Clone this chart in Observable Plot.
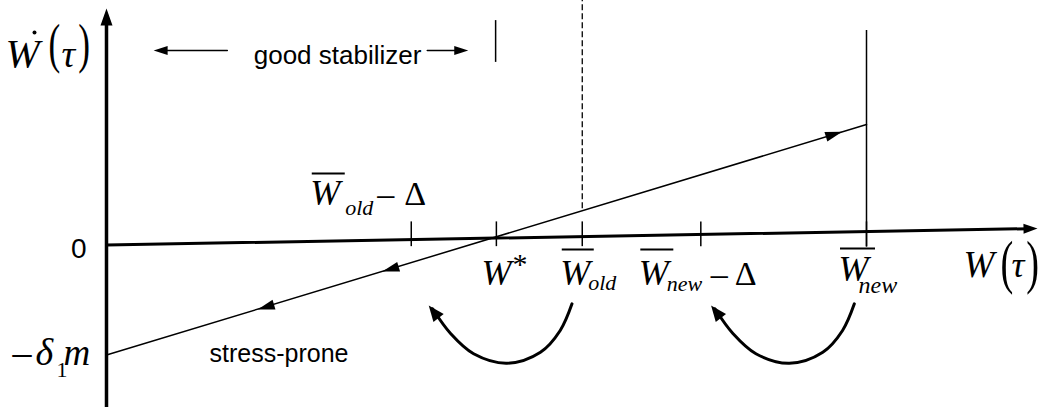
<!DOCTYPE html>
<html><head><meta charset="utf-8">
<script src="https://cdn.jsdelivr.net/npm/d3@7"></script>
<script src="https://cdn.jsdelivr.net/npm/@observablehq/plot@0.6"></script>
<style>body{margin:0;background:#fff}</style>
</head><body><div id="chart"></div>
<script>
// ---------- data (schematic units: W̄new = 10, δ1·m = 1) ----------
const tickNames = ["W̄old − Δ", "W*", "W̄old", "W̄new − Δ", "W̄new"];
const tickW = [4.01, 5.13, 6.26, 7.82, 10.0];

const lineW = [0, 10];            // Ẇ = -δ1 m + slope·W
const lineWdot = [-1.0, 1.095];

const diagArrowW = [3.63, 1.99, 9.68];
const diagArrowWdot = [-0.242, -0.587, 1.029];
const diagArrowDir = [-1, -1, 1];

const xAxisW = [0, 12.25];
const xAxisWdot = [0, 0.15];
const yAxisW = [0, 0];
const yAxisWdot = [-1.5, 2.15];

const newLineWdot = [-0.02, 1.95];     // solid line at W̄new
const oldDashWdot = [0.33, 2.2227];    // dashed line at W̄old
const stabTickW = 5.12;
const stabTickWdot = [1.66, 2.04];
const stabArrowFrom = [1.59, 4.22];
const stabArrowTo = [0.62, 4.76];
const stabArrowWdot = 1.768;

const curve1W = [6.125, 5.97, 5.71, 5.27, 4.83, 4.53, 4.29];
const curve1Wdot = [-0.535, -0.777, -0.975, -1.075, -0.989, -0.807, -0.58];
const curve2W = [9.84, 9.685, 9.425, 8.985, 8.545, 8.245, 8.005];
const curve2Wdot = [-0.535, -0.777, -0.975, -1.075, -0.989, -0.807, -0.58];
const curveTipW = [4.24, 7.955];
const curveTipWdot = [-0.55, -0.55];

// ---------- scales ----------
const WIDTH = 1039, HEIGHT = 407;
const xDomain = [-1.3947, 12.2763];
const yDomain = [-1.4773, 2.2227];
const kx = WIDTH / (xDomain[1] - xDomain[0]);
const ky = HEIGHT / (yDomain[1] - yDomain[0]);
const ang = (dw, dv) => Math.atan2(-dv * ky, dw * kx);

function head(a, L, hw) {
  const c = Math.cos(a), s = Math.sin(a);
  return {draw(ctx) {
    ctx.moveTo(0, 0);
    ctx.lineTo(-L * c + hw * s, -L * s - hw * c);
    ctx.lineTo(-L * c - hw * s, -L * s + hw * c);
    ctx.closePath();
  }};
}
function headMark(w, v, a, L, hw) {
  return Plot.dot([{w, v}], {x: "w", y: "v", r: 4, symbol: head(a, L, hw), fill: "black", stroke: "none"});
}
function back(w, v, a, px) {
  return [w - Math.cos(a) * px / kx, v + Math.sin(a) * px / ky];
}

const serif = "Liberation Serif, Times New Roman, serif";
const sans = "Liberation Sans, Arial, Helvetica, sans-serif";
function txt(t, w, v, dx, dy, size, o = {}) {
  return Plot.text([{w, v, t}], {
    x: "w", y: "v", text: "t", dx, dy, fontSize: size,
    fontFamily: o.family || serif, fontStyle: o.italic ? "italic" : "normal",
    textAnchor: o.anchor || "start", lineAnchor: "bottom", fill: "black"
  });
}
function bar(w, v, dx1, dx2, dy) {
  return Plot.ruleY([{v}], {y: "v", x1: () => w + dx1 / kx, x2: () => w + dx2 / kx, dy, strokeWidth: 2, stroke: "black"});
}

const marks = [];

// axes
const aX = ang(xAxisW[1] - xAxisW[0], xAxisWdot[1] - xAxisWdot[0]);
const xEnd = back(xAxisW[1], xAxisWdot[1], aX, 8);
marks.push(Plot.line([[xAxisW[0], xAxisWdot[0]], xEnd], {strokeWidth: 3, stroke: "black"}));
marks.push(headMark(xAxisW[1], xAxisWdot[1], aX, 14, 5));
const aY = ang(0, 1);
const yEnd = back(yAxisW[1], yAxisWdot[1], aY, 8);
marks.push(Plot.line([[yAxisW[0], yAxisWdot[0]], yEnd], {strokeWidth: 3.5, stroke: "black"}));
marks.push(headMark(yAxisW[1], yAxisWdot[1], aY, 17, 6));

// ticks
marks.push(Plot.ruleX(tickW, {y1: -0.015, y2: 0.21, strokeWidth: 1.5, stroke: "black"}));
marks.push(Plot.ruleX([tickW[4]], {y1: newLineWdot[0], y2: newLineWdot[1], strokeWidth: 1.5, stroke: "black"}));
marks.push(Plot.ruleX([tickW[2]], {y1: oldDashWdot[0], y2: oldDashWdot[1], strokeWidth: 1.3, stroke: "black", strokeDasharray: "6,3"}));

// diagonal line
marks.push(Plot.line(lineW.map((w, i) => [w, lineWdot[i]]), {strokeWidth: 1.5, stroke: "black"}));
const aDiag = ang(lineW[1] - lineW[0], lineWdot[1] - lineWdot[0]);
diagArrowW.forEach((w, i) => {
  const a = diagArrowDir[i] > 0 ? aDiag : aDiag + Math.PI;
  marks.push(headMark(w, diagArrowWdot[i], a, 17, 5));
});

// good stabilizer
marks.push(Plot.ruleX([stabTickW], {y1: stabTickWdot[0], y2: stabTickWdot[1], strokeWidth: 1.5, stroke: "black"}));
stabArrowFrom.forEach((w0, i) => {
  const w1 = stabArrowTo[i];
  const a = ang(w1 - w0, 0);
  const e = back(w1, stabArrowWdot, a, 6);
  marks.push(Plot.line([[w0, stabArrowWdot], e], {strokeWidth: 1.5, stroke: "black"}));
  marks.push(headMark(w1, stabArrowWdot, a, 14, 4.5));
});
marks.push(txt("good stabilizer", 3.04, stabArrowWdot, 0, 13, 26, {family: sans, anchor: "middle"}));
marks.push(txt("stress-prone", 2.27, -1.068, 0, 0, 25, {family: sans, anchor: "middle"}));

// curved arrows
[[curve1W, curve1Wdot], [curve2W, curve2Wdot]].forEach(([cw, cv], k) => {
  marks.push(Plot.line(cw.map((w, i) => [w, cv[i]]), {curve: "catmull-rom", strokeWidth: 3, stroke: "black"}));
  const n = cw.length;
  const a = ang(curveTipW[k] - cw[n - 2], curveTipWdot[k] - cv[n - 2]);
  marks.push(headMark(curveTipW[k], curveTipWdot[k], a, 16, 6.5));
});

// ---------- labels ----------
// y axis
marks.push(txt("0", 0, 0, -20, 13.5, 28, {family: sans, anchor: "end"}));
marks.push(txt("–", 0, -1.0, -94, 10.5, 38));
marks.push(txt("δ", 0, -1.0, -71, 10.5, 38, {italic: true}));
marks.push(txt("1", 0, -1.0, -50, 22.5, 22));
marks.push(txt("m", 0, -1.0, -43, 10.5, 37, {italic: true}));
// Ẇ(τ)
marks.push(txt("W", 0, yAxisWdot[1], -101, 59, 41, {italic: true}));
marks.push(Plot.dot([{w: 0, v: yAxisWdot[1]}], {x: "w", y: "v", dx: -72, dy: 24, r: 2, fill: "black"}));
marks.push(txt("(", 0, yAxisWdot[1], -58, 53.6, 44));
marks.push(txt("τ", 0, yAxisWdot[1], -45, 59, 38, {italic: true}));
marks.push(txt(")", 0, yAxisWdot[1], -16.5, 53.6, 44, {anchor: "end"}));
// W(τ)
marks.push(txt("W", xAxisW[1], xAxisWdot[1], -74, 49, 37, {italic: true}));
marks.push(txt("(", xAxisW[1], xAxisWdot[1], -37, 54, 48));
marks.push(txt("τ", xAxisW[1], xAxisWdot[1], -26, 49, 36, {italic: true}));
marks.push(txt(")", xAxisW[1], xAxisWdot[1], 1.5, 54, 48, {anchor: "end"}));

// tick labels
// W̄old − Δ (above axis)
marks.push(bar(tickW[0], 0, -99, -66, -71.5));
marks.push(txt("W", tickW[0], 0, -101, -39.5, 36, {italic: true}));
marks.push(txt("old", tickW[0], 0, -66, -30, 22, {italic: true}));
marks.push(txt("–", tickW[0], 0, -34, -39.5, 34));
marks.push(txt("Δ", tickW[0], 0, -7, -39.5, 34));
// W*
marks.push(txt("W", tickW[1], 0, -15, 40.5, 36, {italic: true}));
marks.push(txt("*", tickW[1], 0, 16, 29, 30));
// W̄old
marks.push(bar(tickW[2], 0, -20, 12, 4.5));
marks.push(txt("W", tickW[2], 0, -22, 40.5, 36, {italic: true}));
marks.push(txt("old", tickW[2], 0, 6, 45.5, 22, {italic: true}));
// W̄new − Δ
marks.push(bar(tickW[3], 0, -60, -27, 4.5));
marks.push(txt("W", tickW[3], 0, -62, 40.5, 36, {italic: true}));
marks.push(txt("new", tickW[3], 0, -34, 46, 22, {italic: true}));
marks.push(txt("–", tickW[3], 0, 10, 40.5, 34));
marks.push(txt("Δ", tickW[3], 0, 34, 40.5, 34));
// W̄new
marks.push(bar(tickW[4], 0, -26, 9, 3.5));
marks.push(txt("W", tickW[4], 0, -28, 36.5, 36, {italic: true}));
marks.push(txt("new", tickW[4], 0, -8, 48.5, 24, {italic: true}));

const plot = Plot.plot({
  width: WIDTH, height: HEIGHT,
  margin: 0, marginTop: 0, marginRight: 0, marginBottom: 0, marginLeft: 0,
  x: {domain: xDomain, axis: null},
  y: {domain: yDomain, axis: null},
  style: {background: "white", overflow: "visible"},
  marks
});
// tall, narrow parentheses (as in the equation-editor labels)
d3.select(plot).selectAll("text").filter(function () {
  return this.textContent === "(" || this.textContent === ")";
}).each(function () {
  const t = this.getAttribute("transform") || "";
  const x = +this.getAttribute("x") || 0, y = +this.getAttribute("y") || 0;
  this.setAttribute("transform", `${t} translate(${x},${y}) scale(0.8,1.25) translate(${-x},${-y})`);
});
document.getElementById("chart").append(plot);
</script>
</body></html>
